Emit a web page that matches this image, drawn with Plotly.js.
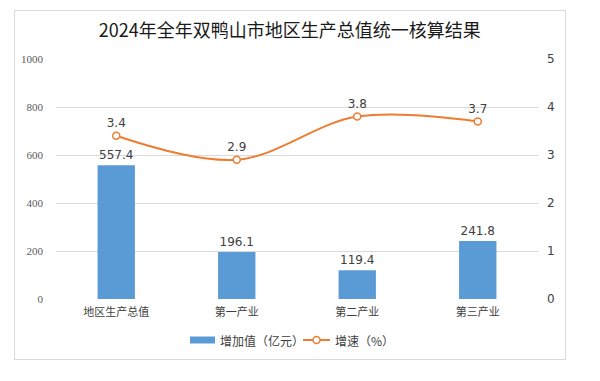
<!DOCTYPE html>
<html><head><meta charset="utf-8">
<script src="https://cdn.plot.ly/plotly-3.0.1.min.js"></script>
<style>
html,body{margin:0;padding:0;background:#fff;}
#wrap{position:relative;width:600px;height:381px;}
#chart{width:600px;height:381px;}
#frame{position:absolute;left:14px;top:10px;width:550px;height:348px;border:1px solid #d9d9d9;pointer-events:none;}
</style></head>
<body><div id="wrap"><div id="chart"></div><div id="frame"></div></div>
<script>
const categories = ["地区生产总值", "第一产业", "第二产业", "第三产业"];
const addedValue = [557.4, 196.1, 119.4, 241.8];
const growthRate = [3.4, 2.9, 3.8, 3.7];
const leftTicks = [0, 200, 400, 600, 800, 1000];
const rightTicks = [0, 1, 2, 3, 4, 5];
const seriesNames = ['增加值（亿元）', '增速（%）'];

const cjk = '"Noto Sans CJK SC", "DejaVu Sans", sans-serif';
const barColor = '#5B9BD5', lineColor = '#ED7D31';
const traces = [
  {
    type: 'bar', name: seriesNames[0], x: categories, y: addedValue,
    marker: {color: barColor}, width: 0.31,
    text: addedValue.map(v => v.toFixed(1)), textposition: 'outside',
    textfont: {family: '"DejaVu Sans", sans-serif', size: 12, color: '#404040'},
    cliponaxis: false, yaxis: 'y', showlegend: false
  },
  {
    type: 'scatter', mode: 'lines+markers+text', name: seriesNames[1], x: categories, y: growthRate,
    line: {color: lineColor, width: 2, shape: 'spline', smoothing: 1},
    marker: {symbol: 'circle', size: 7, color: '#ffffff', line: {color: lineColor, width: 1.5}},
    text: growthRate.map(v => v.toFixed(1)), textposition: 'top center',
    textfont: {family: '"DejaVu Sans", sans-serif', size: 12, color: '#404040'},
    cliponaxis: false, yaxis: 'y2', showlegend: false
  }
];
// custom legend (pixel -> paper helpers)
const PL = 56, PW = 482, PB = 299, PH = 240;
const px = v => (v - PL) / PW, py = v => (PB - v) / PH;
const legY = 340;
const shapes = [
  {type: 'rect', xref: 'paper', yref: 'paper', x0: px(190), x1: px(215), y0: py(legY + 3.5), y1: py(legY - 3.5),
    fillcolor: barColor, line: {width: 0}},
  {type: 'line', xref: 'paper', yref: 'paper', x0: px(303), x1: px(330), y0: py(legY), y1: py(legY),
    line: {color: lineColor, width: 2}},
  {type: 'circle', xref: 'paper', yref: 'paper', x0: px(313), x1: px(320), y0: py(legY + 3.5), y1: py(legY - 3.5),
    fillcolor: '#ffffff', line: {color: lineColor, width: 1.5}}
];
const annotations = [
  {xref: 'paper', yref: 'paper', x: px(218), y: py(legY), xanchor: 'left', yanchor: 'middle', showarrow: false,
    text: seriesNames[0], font: {family: cjk, size: 12, color: '#404040'}},
  {xref: 'paper', yref: 'paper', x: px(333), y: py(legY), xanchor: 'left', yanchor: 'middle', showarrow: false,
    text: seriesNames[1], font: {family: cjk, size: 12, color: '#404040'}}
];
const layout = {
  width: 600, height: 381,
  margin: {l: 56, r: 62, t: 59, b: 82},
  paper_bgcolor: '#ffffff', plot_bgcolor: '#ffffff',
  title: {text: '2024年全年双鸭山市地区生产总值统一核算结果', x: 0.483, xanchor: 'center', y: 0.92, yanchor: 'middle',
    font: {family: cjk, size: 18, color: '#1a1a1a'}},
  showlegend: false,
  shapes: shapes, annotations: annotations,
  bargap: 0.69,
  xaxis: {type: 'category', showgrid: false, zeroline: false, showline: false, ticks: '',
    tickfont: {family: cjk, size: 11, color: '#404040'}, ticklabelstandoff: 5},
  yaxis: {range: [0, 1000], tickvals: leftTicks, ticktext: leftTicks.map(String),
    showgrid: true, gridcolor: '#d9d9d9', gridwidth: 1, zeroline: false, showline: false, ticks: '',
    tickfont: {family: '"Liberation Serif", serif', size: 11, color: '#595959'}, ticklabelstandoff: 12},
  yaxis2: {range: [0, 5], tickvals: rightTicks, overlaying: 'y', side: 'right', showgrid: false,
    zeroline: false, showline: false, ticks: '',
    tickfont: {family: '"DejaVu Sans", sans-serif', size: 12, color: '#404040'}, ticklabelstandoff: 8}
};
Plotly.newPlot('chart', traces, layout, {displayModeBar: false, staticPlot: true});
</script></body></html>
